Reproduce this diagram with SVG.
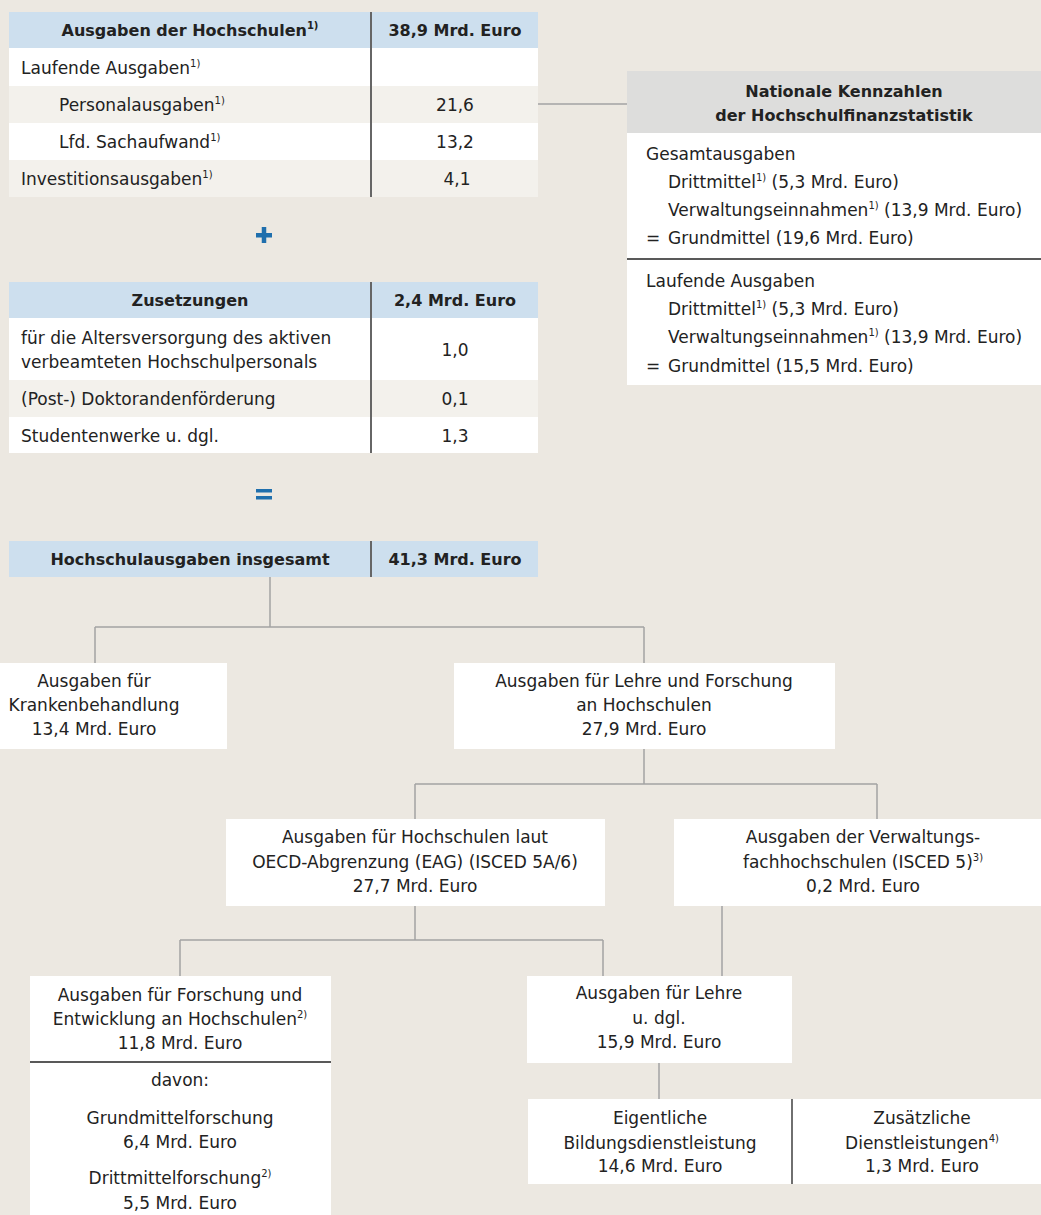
<svg xmlns="http://www.w3.org/2000/svg" width="1041" height="1215" viewBox="0 0 1041 1215">
<defs>
<style>
text{font-family:"DejaVu Sans","Liberation Sans",sans-serif;font-size:17px;fill:#222;}
.b{font-weight:bold;font-size:16px;}
.m{text-anchor:middle;}
.hdr{fill:#cddfee;}
.lt{fill:#f3f1ec;}
.wh{fill:#ffffff;}
.gh{fill:#dddddc;}
.div{stroke:#666;stroke-width:2;fill:none;}
.sep{stroke:#222;stroke-width:1.3;fill:none;}
.con{stroke:#a3a3a3;stroke-width:1.5;fill:none;}
.sup{font-size:10px;}
.op{fill:#1f6fad;}
</style>
</defs>
<rect x="0" y="0" width="1041" height="1215" fill="#ece8e1"/>

<g id="connectors">
<path class="con" d="M538 104 H627"/>
<path class="con" d="M270 577 V627 M95 627 H644 M95 627 V663 M644 627 V663"/>
<path class="con" d="M644 749 V784 M415 784 H877 M415 784 V819 M877 784 V819"/>
<path class="con" d="M415 906 V940 M180 940 H603 M180 940 V976 M603 940 V976"/>
<path class="con" d="M722 906 V976"/>
<path class="con" d="M659 1063 V1099"/>
</g>

<g id="table-ausgaben">
<rect class="hdr" x="9" y="12" width="529" height="36"/>
<rect class="wh" x="9" y="48" width="529" height="38"/>
<rect class="lt" x="9" y="86" width="529" height="37"/>
<rect class="wh" x="9" y="123" width="529" height="37"/>
<rect class="lt" x="9" y="160" width="529" height="37"/>
<path class="div" d="M371 12 V197"/>
<text class="b m" x="190" y="36">Ausgaben der Hochschulen<tspan class="sup" dy="-7">1)</tspan></text>
<text class="b m" x="455" y="36">38,9 Mrd. Euro</text>
<text x="21" y="74">Laufende Ausgaben<tspan class="sup" dy="-7">1)</tspan></text>
<text x="59" y="111">Personalausgaben<tspan class="sup" dy="-7">1)</tspan></text>
<text class="m" x="455" y="111">21,6</text>
<text x="59" y="148">Lfd. Sachaufwand<tspan class="sup" dy="-7">1)</tspan></text>
<text class="m" x="455" y="148">13,2</text>
<text x="21" y="185">Investitionsausgaben<tspan class="sup" dy="-7">1)</tspan></text>
<text class="m" x="457" y="185">4,1</text>
</g>

<g id="kennzahlen">
<rect class="gh" x="627" y="71" width="414" height="62"/>
<rect class="wh" x="627" y="133" width="414" height="252"/>
<path class="sep" d="M627 259 H1041"/>
<text class="b m" x="844" y="97">Nationale Kennzahlen</text>
<text class="b m" x="844" y="121">der Hochschulfinanzstatistik</text>
<text x="646" y="160">Gesamtausgaben</text>
<text x="668" y="188">Drittmittel<tspan class="sup" dy="-7">1)</tspan><tspan dy="7"> (5,3 Mrd. Euro)</tspan></text>
<text x="668" y="216">Verwaltungseinnahmen<tspan class="sup" dy="-7">1)</tspan><tspan dy="7"> (13,9 Mrd. Euro)</tspan></text>
<text x="646" y="244">=</text>
<text x="668" y="244">Grundmittel (19,6 Mrd. Euro)</text>
<text x="646" y="287">Laufende Ausgaben</text>
<text x="668" y="315">Drittmittel<tspan class="sup" dy="-7">1)</tspan><tspan dy="7"> (5,3 Mrd. Euro)</tspan></text>
<text x="668" y="343">Verwaltungseinnahmen<tspan class="sup" dy="-7">1)</tspan><tspan dy="7"> (13,9 Mrd. Euro)</tspan></text>
<text x="646" y="372">=</text>
<text x="668" y="372">Grundmittel (15,5 Mrd. Euro)</text>
</g>

<g id="plus">
<rect class="op" x="256" y="233" width="16" height="4.5"/>
<rect class="op" x="261.75" y="227" width="4.5" height="16"/>
</g>

<g id="table-zusetzungen">
<rect class="hdr" x="9" y="282" width="529" height="36"/>
<rect class="wh" x="9" y="318" width="529" height="62"/>
<rect class="lt" x="9" y="380" width="529" height="37"/>
<rect class="wh" x="9" y="417" width="529" height="36"/>
<path class="div" d="M371 282 V453"/>
<text class="b m" x="190" y="306">Zusetzungen</text>
<text class="b m" x="455" y="306">2,4 Mrd. Euro</text>
<text x="21" y="344">für die Altersversorgung des aktiven</text>
<text x="21" y="368">verbeamteten Hochschulpersonals</text>
<text class="m" x="455" y="356">1,0</text>
<text x="21" y="405">(Post-) Doktorandenförderung</text>
<text class="m" x="455" y="405">0,1</text>
<text x="21" y="442">Studentenwerke u. dgl.</text>
<text class="m" x="455" y="442">1,3</text>
</g>

<g id="equals">
<rect class="op" x="256" y="489" width="16" height="3.5"/>
<rect class="op" x="256" y="496" width="16" height="3.5"/>
</g>

<g id="table-insgesamt">
<rect class="hdr" x="9" y="541" width="529" height="36"/>
<path class="div" d="M371 541 V577"/>
<text class="b m" x="190" y="565">Hochschulausgaben insgesamt</text>
<text class="b m" x="455" y="565">41,3 Mrd. Euro</text>
</g>

<g id="node-kranken">
<rect class="wh" x="0" y="663" width="227" height="86"/>
<text class="m" x="94" y="687">Ausgaben für</text>
<text class="m" x="94" y="711">Krankenbehandlung</text>
<text class="m" x="94" y="735">13,4 Mrd. Euro</text>
</g>

<g id="node-lehre-forschung">
<rect class="wh" x="454" y="663" width="381" height="86"/>
<text class="m" x="644" y="687">Ausgaben für Lehre und Forschung</text>
<text class="m" x="644" y="711">an Hochschulen</text>
<text class="m" x="644" y="735">27,9 Mrd. Euro</text>
</g>

<g id="node-oecd">
<rect class="wh" x="226" y="819" width="379" height="87"/>
<text class="m" x="415" y="843">Ausgaben für Hochschulen laut</text>
<text class="m" x="415" y="868">OECD-Abgrenzung (EAG) (ISCED 5A/6)</text>
<text class="m" x="415" y="892">27,7 Mrd. Euro</text>
</g>

<g id="node-verwaltung">
<rect class="wh" x="674" y="819" width="367" height="87"/>
<text class="m" x="863" y="843">Ausgaben der Verwaltungs-</text>
<text class="m" x="863" y="868">fachhochschulen (ISCED 5)<tspan class="sup" dy="-7">3)</tspan></text>
<text class="m" x="863" y="892">0,2 Mrd. Euro</text>
</g>

<g id="node-forschung">
<rect class="wh" x="30" y="976" width="301" height="239"/>
<path class="sep" d="M30 1062 H331"/>
<text class="m" x="180" y="1001">Ausgaben für Forschung und</text>
<text class="m" x="180" y="1025">Entwicklung an Hochschulen<tspan class="sup" dy="-7">2)</tspan></text>
<text class="m" x="180" y="1049">11,8 Mrd. Euro</text>
<text class="m" x="180" y="1086">davon:</text>
<text class="m" x="180" y="1124">Grundmittelforschung</text>
<text class="m" x="180" y="1148">6,4 Mrd. Euro</text>
<text class="m" x="180" y="1184">Drittmittelforschung<tspan class="sup" dy="-7">2)</tspan></text>
<text class="m" x="180" y="1209">5,5 Mrd. Euro</text>
</g>

<g id="node-lehre">
<rect class="wh" x="527" y="976" width="265" height="87"/>
<text class="m" x="659" y="999">Ausgaben für Lehre</text>
<text class="m" x="659" y="1024">u. dgl.</text>
<text class="m" x="659" y="1048">15,9 Mrd. Euro</text>
</g>

<g id="node-dienstleistungen">
<rect class="wh" x="528" y="1099" width="513" height="85"/>
<path class="sep" d="M792 1099 V1184"/>
<text class="m" x="660" y="1124">Eigentliche</text>
<text class="m" x="660" y="1149">Bildungsdienstleistung</text>
<text class="m" x="660" y="1172">14,6 Mrd. Euro</text>
<text class="m" x="922" y="1124">Zusätzliche</text>
<text class="m" x="922" y="1149">Dienstleistungen<tspan class="sup" dy="-7">4)</tspan></text>
<text class="m" x="922" y="1172">1,3 Mrd. Euro</text>
</g>
</svg>
